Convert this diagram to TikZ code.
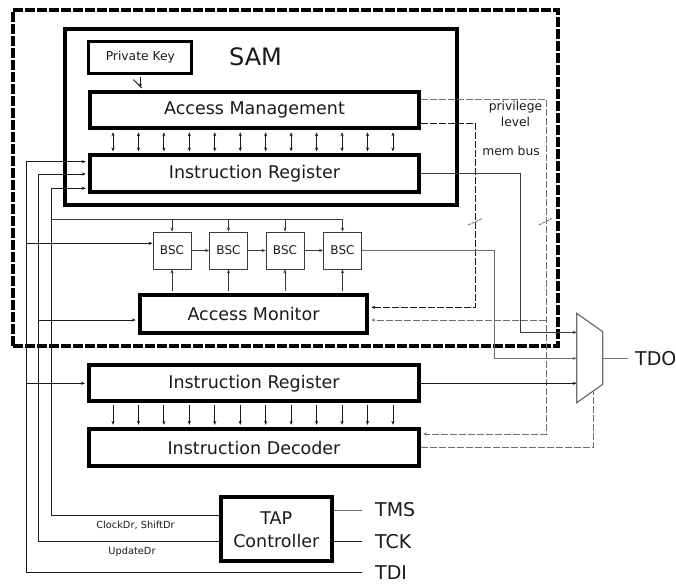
\documentclass[tikz,border=0pt]{standalone}
\usepackage{fontspec}
\setmainfont{DejaVu Sans}
\usetikzlibrary{calc,arrows.meta}
\definecolor{ink}{HTML}{1A1A1A}
\definecolor{wiregray}{HTML}{6E6E6E}
\definecolor{darkwire}{HTML}{3A3A3A}
\begin{document}
\begin{tikzpicture}[x=1pt,y=-1pt,
  >={Stealth[length=4pt,width=3.2pt]},
  every node/.style={text=ink},
  wire/.style={draw=ink, line width=0.9pt},
  dkwire/.style={draw=darkwire, line width=0.9pt},
  gwire/.style={draw=wiregray, line width=0.9pt},
  dwire/.style={draw=wiregray, line width=0.9pt, dash pattern=on 7pt off 2pt},
  dkdash/.style={draw=ink, line width=0.9pt, dash pattern=on 7pt off 2pt},
  into/.style={->, shorten >=2pt},
  heavybox/.style={draw=black, line width=4pt, inner sep=0pt, align=center,
    font=\fontsize{17.5}{23}\selectfont},
  cellbox/.style={draw=darkwire, line width=0.9pt, minimum width=38pt,
    minimum height=37pt, inner sep=0pt, font=\fontsize{12}{14}\selectfont},
  pin/.style={font=\fontsize{19}{22}\selectfont, inner sep=0pt, anchor=west},
  tag/.style={font=\fontsize{12.3}{16}\selectfont, inner sep=0pt, align=center},
  sigtag/.style={font=\fontsize{9.8}{12}\selectfont, inner sep=0pt},
  slash/.style={draw=wiregray, line width=0.9pt, dash pattern=on 3pt off 1pt},
]
\useasboundingbox (0,0) rectangle (676,583);

% ---------------- blocks ----------------
\node[heavybox, line width=3.5pt, dash pattern=on 10pt off 2pt,
      minimum width=545pt, minimum height=336pt] (chip) at (285.5,178) {};
\node[heavybox, minimum width=392pt, minimum height=176pt] (sam) at (260.7,117.2) {};
\node[font=\fontsize{24}{28}\selectfont, inner sep=0pt] (samlabel) at (255.5,57) {SAM};
\node[heavybox, line width=3.3pt, minimum width=103pt, minimum height=32pt,
      font=\fontsize{12.3}{14}\selectfont] (pk) at (140.3,57.5) {Private Key};
\node[heavybox, minimum width=329.5pt, minimum height=36.6pt] (am) at (254.5,110) {Access Management};
\node[heavybox, minimum width=329.5pt, minimum height=36.6pt] (ir1) at (254.5,173.7) {Instruction Register};

\node[cellbox] (bsc1) at (172,250.5) {BSC};
\node[cellbox] (bsc2) at (228.5,250.5) {BSC};
\node[cellbox] (bsc3) at (285,250.5) {BSC};
\node[cellbox] (bsc4) at (342.5,250.5) {BSC};

\node[heavybox, minimum width=227.5pt, minimum height=37.7pt] (amon) at (253.5,314) {Access Monitor};

\node[heavybox, minimum width=330pt, minimum height=36pt] (ir2) at (254,383.3) {Instruction Register};
\node[heavybox, minimum width=330pt, minimum height=37.4pt] (id) at (254,447.5) {Instruction Decoder};
\node[heavybox, minimum width=110.7pt, minimum height=64pt] (tap) at (276.3,529.3) {TAP\\Controller};

% multiplexer
\coordinate (mA) at (576.7,313.3);
\coordinate (mB) at (602.7,331.7);
\coordinate (mC) at (602.7,384.3);
\coordinate (mD) at (576.7,402.7);
\draw[draw=wiregray, line width=1.2pt, line join=miter] (mA) -- (mB) -- (mC) -- (mD) -- cycle;
\coordinate (in1) at (576.7,332.3);
\coordinate (in2) at (576.7,358.3);
\coordinate (in3) at (576.7,383.3);
\coordinate (msel) at (593.3,390.9);
\coordinate (mout) at (602.7,358.3);

% pins
\node[pin] (tdo) at (635,358.3) {TDO};
\node[pin] (tms) at (375,510) {TMS};
\node[pin] (tck) at (375,541.7) {TCK};
\node[pin] (tdi) at (375,572.5) {TDI};

% labels
\node[tag] (priv) at (515.5,114) {privilege\\level};
\node[tag] (membus) at (511,151) {mem bus};
\node[sigtag] (clklbl) at (135.5,525) {ClockDr, ShiftDr};
\node[sigtag] (updlbl) at (132,551.7) {UpdateDr};

% ---------------- routing levels ----------------
\coordinate (xA) at (26,0);
\coordinate (xB) at (38.3,0);
\coordinate (xC) at (51,0);
\coordinate (yA) at (0,161.7);
\coordinate (yB) at (0,174);
\coordinate (yC) at (0,188.3);
\coordinate (yBsc) at (0,243.3);
\coordinate (yMon) at (0,320);
\coordinate (yTop) at (0,219.3);
\coordinate (yClk) at (0,515.7);
\coordinate (yUpd) at (0,541.7);
\coordinate (xI) at (520,0);
\coordinate (xS) at (494.3,0);
\coordinate (xP) at (546,0);
\coordinate (xM) at (475.7,0);
\coordinate (yPr) at (0,99);
\coordinate (yPrI) at (0,434);
\coordinate (yPrM) at (0,320);
\coordinate (yMb) at (0,123.3);
\coordinate (yMbM) at (0,307.3);

% ---------------- connectors ----------------
% private key into access management (bus)
\draw[wire,into,shorten <=1.6pt] (pk.south) -- (pk.south |- am.north);
\draw[wire] ($(pk.south)+(-7,4.5)$) -- ($(pk.south)+(1.5,13)$);

% access management <-> instruction register, register -> decoder
\foreach \k in {0,...,11} {
  \pgfmathsetmacro\dx{-141.5+25.45*\k}
  \draw[wire,<->,shorten <=2pt,shorten >=2pt] ($(am.south)+(\dx,0)$) -- ($(ir1.north)+(\dx,0)$);
  \draw[wire,->,shorten <=2pt,shorten >=2pt] ($(ir2.south)+(\dx+0.5,0)$) -- ($(id.north)+(\dx+0.5,0)$);
}

% TDI
\draw[wire,into] ([xshift=-13.3pt]tdi.west) -| (xA |- yA) -- (ir1.west |- yA);
\draw[wire,->] (xA |- yBsc) -- (bsc1.west |- yBsc);
\draw[wire,into] (xA |- ir2.west) -- (ir2.west);

% UpdateDr
\draw[wire,into] (tap.west |- yUpd) -| (xB |- yB) -- (ir1.west |- yB);
\draw[wire,into] (xB |- yMon) -- (amon.west |- yMon);

% ClockDr, ShiftDr
\draw[wire,into] (tap.west |- yClk) -| (xC |- yC) -- (ir1.west |- yC);
\draw[dkwire] (xC |- yTop) -- (bsc4.north |- yTop);
\foreach \b in {1,2,3,4}
  \draw[dkwire,->] (bsc\b.north |- yTop) -- (bsc\b.north);

% boundary-scan chain
\draw[dkwire,->] (bsc1.east) -- (bsc2.west);
\draw[dkwire,->] (bsc2.east) -- (bsc3.west);
\draw[dkwire,->] (bsc3.east) -- (bsc4.west);
\foreach \b in {1,2,3,4}
  \draw[dkwire,->,shorten <=2pt] (amon.north -| bsc\b) -- (bsc\b.south);

% privilege level and memory bus
\draw[dwire,into] (am.east |- yPr) -| (xP |- yPrI) -- (id.east |- yPrI);
\draw[dwire,into] (xP |- yPrM) -- (amon.east |- yPrM);
\draw[dkdash,into] (am.east |- yMb) -| (xM |- yMbM) -- (amon.east |- yMbM);
\draw[slash] ($(xM |- yTop)+(-7.5,5.7)$) -- ($(xM |- yTop)+(6.5,-0.8)$);
\draw[slash] ($(xP |- yTop)+(-7,5.7)$) -- ($(xP |- yTop)+(5.7,-0.8)$);

% inputs of the output multiplexer
\draw[dkwire,->] (ir1.east) -| (xI |- in1) -- (in1);
\draw[gwire,->] (bsc4.east) -| (xS |- in2) -- (in2);
\draw[wire,->] (ir2.east) -- (in3);
\draw[dwire] (id.east) -| (msel);
\draw[gwire] (mout) -- ([xshift=-6.7pt]tdo.west);

% TAP controller pins
\draw[gwire] (tap.east |- tms) -- ([xshift=-13.3pt]tms.west);
\draw[wire] (tap.east |- tck) -- ([xshift=-13.3pt]tck.west);
\end{tikzpicture}
\end{document}
